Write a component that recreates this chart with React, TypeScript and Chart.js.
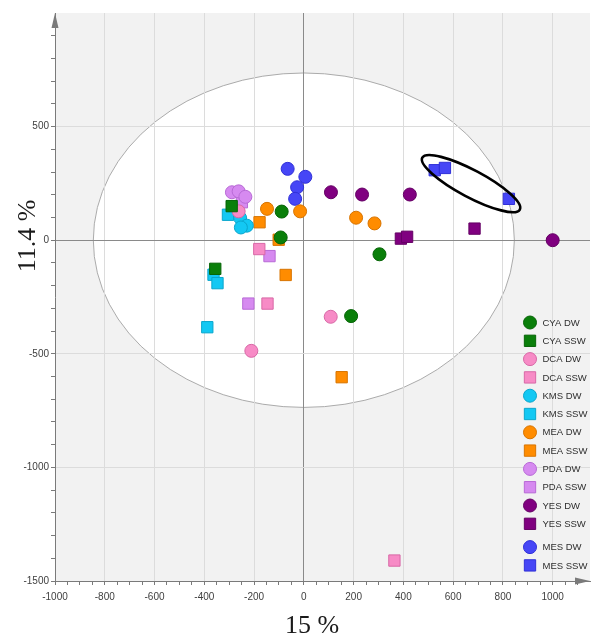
import React, { useEffect, useRef } from 'react';
import { Chart, registerables } from 'chart.js';

Chart.register(...registerables);

// ---- Texts ----
const X_TITLE = '15 %';
const Y_TITLE = '11.4 %';

// ---- Axis ranges / ticks ----
const X_MIN = -1000;
const X_MAX = 1150;
const X_STEP = 50;
const X_LABEL_STEP = 200;
const Y_MIN = -1500;
const Y_MAX = 1000;
const Y_STEP = 100;
const Y_LABEL_STEP = 500;

// ---- Confidence ellipse (data units) ----
const CONF_RX = 846;
const CONF_RY = 736;

// ---- Highlight ellipse ends (data units) ----
const HIGHLIGHT_END_A = [476, 363];
const HIGHLIGHT_END_B = [868, 135];

// ---- Series values [PC1, PC2] ----
const CYA_DW = [[-89, 126], [-93, 12], [190, -334], [304, -62]];
const CYA_SSW = [[-290, 150], [-356, -126]];
const DCA_DW = [[-262, 127], [-211, -487], [108, -337]];
const DCA_SSW = [[-179, -39], [-146, -279], [364, -1410]];
const KMS_DW = [[-256, 98], [-229, 64], [-253, 56]];
const KMS_SSW = [[-305, 112], [-363, -152], [-347, -189], [-388, -383]];
const MEA_DW = [[-148, 138], [-15, 127], [210, 99], [284, 74]];
const MEA_SSW = [[-178, 79], [-101, 2], [-73, -153], [152, -603]];
const PDA_DW = [[-289, 211], [-262, 215], [-235, 191]];
const PDA_SSW = [[-249, 167], [-138, -70], [-223, -279]];
const YES_DW = [[109, 211], [234, 201], [426, 201], [1000, 0]];
const YES_SSW = [[390, 7], [415, 15], [686, 51]];
const MES_DW = [[-65, 314], [6, 279], [-27, 233], [-35, 182]];
const MES_SSW = [[526, 308], [567, 318], [824, 182]];

const SERIES_LABELS = [
  'CYA DW', 'CYA SSW', 'DCA DW', 'DCA SSW', 'KMS DW', 'KMS SSW', 'MEA DW',
  'MEA SSW', 'PDA DW', 'PDA SSW', 'YES DW', 'YES SSW', 'MES DW', 'MES SSW',
];
const SERIES_VALUES = [
  CYA_DW, CYA_SSW, DCA_DW, DCA_SSW, KMS_DW, KMS_SSW, MEA_DW,
  MEA_SSW, PDA_DW, PDA_SSW, YES_DW, YES_SSW, MES_DW, MES_SSW,
];

// ---- Styles ----
const FILLS = {
  CYA: '#0a7f0a', DCA: '#f78bc6', KMS: '#13c8f3', MEA: '#ff8c00',
  PDA: '#d68af0', YES: '#800080', MES: '#4646f6',
};
const BORDERS = {
  CYA: '#066406', DCA: '#d868a6', KMS: '#0aa6cc', MEA: '#d87400',
  PDA: '#b86ad6', YES: '#640064', MES: '#3030d8',
};
const CIRCLE_R = 6.5;
const RECT_R = 8;
const SANS = '"Liberation Sans", Arial, sans-serif';
const SERIF = '"Liberation Serif", "Times New Roman", serif';

const isDW = (label: string) => label.endsWith(' DW');
const group = (label: string) => label.split(' ')[0];

const bgPlugin = {
  id: 'bgPlugin',
  beforeDraw(chart: any) {
    const { ctx, chartArea: a, scales } = chart;
    const x = scales.x, y = scales.y;
    ctx.save();
    ctx.fillStyle = '#f2f2f2';
    ctx.fillRect(a.left, a.top, a.right - a.left, a.bottom - a.top);
    const cx = x.getPixelForValue(0);
    const cy = y.getPixelForValue(0);
    const rx = x.getPixelForValue(CONF_RX) - cx;
    const ry = cy - y.getPixelForValue(CONF_RY);
    ctx.beginPath();
    ctx.ellipse(cx, cy, rx, ry, 0, 0, Math.PI * 2);
    ctx.fillStyle = '#ffffff';
    ctx.fill();
    ctx.strokeStyle = '#ababab';
    ctx.lineWidth = 1;
    ctx.stroke();
    ctx.restore();
  },
};

const overlayPlugin = {
  id: 'overlayPlugin',
  afterDatasetsDraw(chart: any) {
    const { ctx, scales } = chart;
    const x = scales.x, y = scales.y;
    const ax = x.getPixelForValue(HIGHLIGHT_END_A[0]);
    const ay = y.getPixelForValue(HIGHLIGHT_END_A[1]);
    const bx = x.getPixelForValue(HIGHLIGHT_END_B[0]);
    const by = y.getPixelForValue(HIGHLIGHT_END_B[1]);
    const cx = (ax + bx) / 2, cy = (ay + by) / 2;
    const rMaj = Math.hypot(bx - ax, by - ay) / 2;
    const ang = Math.atan2(by - ay, bx - ax);
    ctx.save();
    ctx.beginPath();
    ctx.ellipse(cx, cy, rMaj, 13.5, ang, 0, Math.PI * 2);
    ctx.strokeStyle = '#000000';
    ctx.lineWidth = 2.6;
    ctx.stroke();
    ctx.restore();
  },
  afterDraw(chart: any) {
    const { ctx, chartArea: a } = chart;
    ctx.save();
    // axis arrows
    ctx.fillStyle = '#7a7a7a';
    ctx.beginPath();
    ctx.moveTo(a.left, a.top);
    ctx.lineTo(a.left - 3.5, a.top + 15);
    ctx.lineTo(a.left + 3.5, a.top + 15);
    ctx.closePath();
    ctx.fill();
    ctx.beginPath();
    ctx.moveTo(a.right, a.bottom);
    ctx.lineTo(a.right - 15, a.bottom - 3.5);
    ctx.lineTo(a.right - 15, a.bottom + 3.5);
    ctx.closePath();
    ctx.fill();

    // axis titles
    ctx.fillStyle = '#1a1a1a';
    ctx.font = `26px ${SERIF}`;
    ctx.textAlign = 'center';
    ctx.textBaseline = 'middle';
    ctx.fillText(X_TITLE, 312, 626);
    ctx.save();
    ctx.translate(28, 236);
    ctx.rotate(-Math.PI / 2);
    ctx.fillText(Y_TITLE, 0, 0);
    ctx.restore();

    // legend
    ctx.font = `9.5px ${SANS}`;
    ctx.textAlign = 'left';
    ctx.textBaseline = 'middle';
    chart.data.datasets.forEach((ds: any, i: number) => {
      const yy = 322.5 + i * 18.3 + (i >= 12 ? 5 : 0);
      const xx = 530;
      ctx.fillStyle = ds.backgroundColor;
      ctx.strokeStyle = ds.borderColor;
      ctx.lineWidth = 1;
      ctx.beginPath();
      if (ds.pointStyle === 'circle') {
        ctx.arc(xx, yy, CIRCLE_R, 0, Math.PI * 2);
      } else {
        const s = RECT_R * Math.SQRT1_2;
        ctx.rect(xx - s, yy - s, 2 * s, 2 * s);
      }
      ctx.fill();
      ctx.stroke();
      ctx.fillStyle = '#2e2e2e';
      ctx.fillText(ds.label, 542.5, yy + 0.5);
    });
    ctx.restore();
  },
};

export default function App() {
  const canvasRef = useRef<HTMLCanvasElement | null>(null);

  useEffect(() => {
    const canvas = canvasRef.current;
    if (!canvas) return;
    const datasets = SERIES_LABELS.map((label, i) => {
      const g = group(label);
      const dw = isDW(label);
      return {
        label,
        data: SERIES_VALUES[i].map(([px, py]) => ({ x: px, y: py })),
        pointStyle: dw ? 'circle' : 'rect',
        pointRadius: dw ? CIRCLE_R : RECT_R,
        pointHoverRadius: dw ? CIRCLE_R : RECT_R,
        backgroundColor: (FILLS as any)[g],
        borderColor: (BORDERS as any)[g],
        borderWidth: 1,
        showLine: false,
      };
    });

    const chart = new Chart(canvas, {
      type: 'scatter',
      data: { datasets },
      plugins: [bgPlugin, overlayPlugin],
      options: {
        responsive: false,
        animation: false,
        devicePixelRatio: 1,
        layout: { autoPadding: false, padding: { top: 13, right: 4, left: 0, bottom: 0 } },
        plugins: { legend: { display: false }, tooltip: { enabled: false } },
        scales: {
          x: {
            type: 'linear',
            min: X_MIN,
            max: X_MAX,
            afterFit: (s: any) => { s.height = 58; s.paddingLeft = 0; s.paddingRight = 0; },
            border: { display: true, color: '#7a7a7a', width: 1 },
            grid: {
              tickLength: 4,
              color: (c: any) => {
                const v = c.tick ? c.tick.value : NaN;
                if (v === 0) return '#8a8a8a';
                if (v !== X_MIN && v % X_LABEL_STEP === 0) return '#dcdcdc';
                return 'rgba(0,0,0,0)';
              },
              tickColor: (c: any) => {
                const v = c.tick ? c.tick.value : NaN;
                return v > 1100 ? 'rgba(0,0,0,0)' : '#7a7a7a';
              },
            },
            ticks: {
              stepSize: X_STEP,
              autoSkip: false,
              maxRotation: 0,
              minRotation: 0,
              padding: 6,
              color: '#404040',
              font: { family: SANS, size: 10 },
              callback: (v: any) => (Number(v) % X_LABEL_STEP === 0 && Number(v) <= 1000 ? String(v) : ''),
            },
          },
          y: {
            type: 'linear',
            min: Y_MIN,
            max: Y_MAX,
            afterFit: (s: any) => { s.width = 55; s.paddingTop = 0; s.paddingBottom = 0; },
            border: { display: true, color: '#7a7a7a', width: 1 },
            grid: {
              tickLength: 4,
              color: (c: any) => {
                const v = c.tick ? c.tick.value : NaN;
                if (v === 0) return '#8a8a8a';
                if (v !== Y_MIN && v !== Y_MAX && v % Y_LABEL_STEP === 0) return '#dcdcdc';
                return 'rgba(0,0,0,0)';
              },
              tickColor: (c: any) => {
                const v = c.tick ? c.tick.value : NaN;
                return v >= Y_MAX ? 'rgba(0,0,0,0)' : '#7a7a7a';
              },
            },
            ticks: {
              stepSize: Y_STEP,
              autoSkip: false,
              padding: 2,
              color: '#404040',
              font: { family: SANS, size: 10 },
              callback: (v: any) => (Number(v) % Y_LABEL_STEP === 0 && Number(v) < Y_MAX ? String(v) : ''),
            },
          },
        },
      } as any,
    });
    return () => chart.destroy();
  }, []);

  return (
    <div style={{ position: 'fixed', left: 0, top: 0, width: 594, height: 639, background: '#ffffff' }}>
      <canvas ref={canvasRef} width={594} height={639} style={{ display: 'block', width: 594, height: 639 }} />
    </div>
  );
}
